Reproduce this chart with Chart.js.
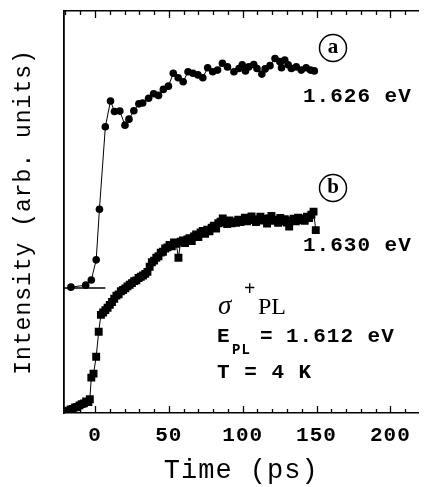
<!DOCTYPE html>
<html>
<head>
<meta charset="utf-8">
<script src="https://cdn.jsdelivr.net/npm/chart.js@4.4.1/dist/chart.umd.min.js"></script>
<style>
  html, body { margin: 0; padding: 0; background: #fff; }
  #wrap { width: 424px; height: 487px; }
</style>
</head>
<body>
<div id="wrap"><canvas id="trChart" width="424" height="487"></canvas></div>
<script>
// curve (a), detection at 1.626 eV (circles)
const timeA = [-16.3, -6.3, -2.5, 0.8, 3.0, 7.0, 10.5, 13.2, 16.8, 20.3, 23.0, 26.3, 29.7, 32.3, 36.3,
  39.7, 43.0, 46.3, 49.7, 53.0, 56.3, 59.7, 63.0, 66.3, 69.7, 73.0, 76.3, 79.7, 83.0, 86.3, 89.7,
  94.1, 97.5, 99.7, 101.9, 104.1, 107.5, 109.7, 113.0, 115.2, 118.5, 121.9, 125.2, 126.3, 128.5,
  130.8, 133.0, 136.3, 139.7, 143.0, 145.9, 148.5];
const intA = [31.3, 31.8, 33.1, 38.1, 50.7, 71.2, 77.6, 75.0, 75.1, 71.6, 73.1, 75.2, 76.9, 77.1, 78.3,
  79.4, 79.0, 80.5, 81.3, 84.5, 83.4, 82.4, 84.9, 84.5, 84.1, 83.4, 85.9, 84.9, 85.3, 87.0, 86.1,
  84.9, 85.7, 86.6, 85.1, 86.1, 86.7, 85.7, 84.3, 85.6, 86.4, 88.2, 87.4, 85.9, 87.8,
  86.6, 85.7, 86.1, 85.3, 85.9, 85.3, 85.1];
// zero level of curve (a)
const baseA = 31.1;
const baseAStart = -21;
const baseAEnd = 7;

// curve (b), detection at 1.630 eV (squares)
const timeB = [-19.5, -18, -16.5, -15, -13.5, -12, -10.5, -9, -7.5, -6, -4.5, -3.5, -2.5, -1, 0.8, 2.5,
  4, 5.5, 7, 8.5, 10, 11.5, 13, 14.5, 16, 17.5, 19, 20.5, 22, 23.5, 25, 26.5, 28, 29.5, 31, 32.5,
  34, 35.5, 37, 38.5, 40, 41.5, 43, 44.5, 46, 47.5, 49, 50.5, 52, 53.5, 55, 56.5, 58, 59.5, 61,
  62.5, 64, 65.5, 67, 68.5, 70, 71.5, 73, 74.5, 76, 77.5, 79, 80.5, 82, 83.5, 85, 86.5, 88, 89.5,
  91, 92.5, 94, 95.5, 97, 98.5, 100, 101.5, 103, 104.5, 106, 107.5, 109, 110.5, 112, 113.5, 115,
  116.5, 118, 119.5, 121, 122.5, 124, 125.5, 127, 128.5, 130, 131.5, 133, 134.5, 136, 137.5, 139,
  140.5, 142, 143.5, 145, 146.5, 148, 149.5];
const intB = [0.3, 0.6, 0.9, 1.0, 1.4, 1.5, 1.9, 2.2, 2.4, 2.9, 2.7, 3.4, 8.8, 9.8, 14.0, 20.2,
  24.4, 25.0, 25.6, 26.2, 26.9, 27.6, 28.4, 29.2, 29.5, 30.3, 30.6, 31.0, 31.5, 31.9, 32.3, 32.8, 33.0, 33.6, 33.9, 34.2,
  34.6, 35.1, 36.4, 37.5, 37.9, 38.6, 39.0, 39.9, 40.1, 40.9, 41.2, 41.8, 41.5, 42.4, 42.1, 38.6, 42.6, 42.9, 42.3,
  43.2, 43.5, 42.8, 43.9, 44.4, 43.8, 44.9, 45.3, 44.6, 45.6, 45.2, 46.1, 46.6, 45.9, 47.2, 47.6, 48.4, 47.4, 47.0,
  47.9, 47.2, 47.6, 47.3, 48.1, 47.5, 47.8, 48.6, 47.7, 48.3, 48.9, 48.0, 47.5, 48.2, 48.8, 47.9, 48.3,
  47.1, 48.4, 49.0, 47.8, 48.1, 47.3, 48.5, 47.6, 48.2, 47.4, 46.4, 47.9, 48.3, 47.7, 48.6, 48.0,
  48.4, 47.8, 48.8, 48.5, 49.3, 50.1, 45.5];

const xMajorTicks = [0, 50, 100, 150, 200];
const xMinorTicks = [-20, -10, 10, 20, 30, 40, 60, 70, 80, 90, 110, 120, 130, 140, 160, 170, 180, 190, 210];

const monoBold = '"Liberation Mono", "DejaVu Sans Mono", monospace';

// inward tick marks on the bottom and top frame lines
const frameTicks = {
  id: 'frameTicks',
  afterDraw(chart) {
    const { ctx, chartArea } = chart;
    const xs = chart.scales.x;
    ctx.save();
    ctx.strokeStyle = '#000';
    ctx.lineWidth = 1.3;
    const mark = (v, len) => {
      const px = Math.round(xs.getPixelForValue(v)) + 0.5;
      ctx.beginPath();
      ctx.moveTo(px, chartArea.bottom);
      ctx.lineTo(px, chartArea.bottom - len);
      ctx.moveTo(px, chartArea.top);
      ctx.lineTo(px, chartArea.top + len);
      ctx.stroke();
    };
    xMajorTicks.forEach(v => mark(v, 7));
    xMinorTicks.forEach(v => mark(v, 4));
    ctx.restore();
  }
};

// labels inside the plot
const notes = {
  id: 'notes',
  afterDraw(chart) {
    const ctx = chart.ctx;
    ctx.save();
    ctx.fillStyle = '#000';
    ctx.strokeStyle = '#000';
    ctx.textBaseline = 'middle';

    // circled letters
    ctx.lineWidth = 1.5;
    [['a', 333, 48], ['b', 333, 188]].forEach(([s, cx, cy]) => {
      ctx.beginPath();
      ctx.arc(cx, cy, 13.5, 0, Math.PI * 2);
      ctx.stroke();
      ctx.font = 'bold 21px "Liberation Serif", serif';
      ctx.textAlign = 'center';
      ctx.letterSpacing = '0px';
      ctx.fillText(s, cx, cy);
    });

    ctx.letterSpacing = '1px';
    ctx.textAlign = 'left';
    ctx.font = 'bold 21px ' + monoBold;
    ctx.fillText('1.626 eV', 303, 97);
    ctx.fillText('1.630 eV', 303, 246);

    // sigma+ PL
    ctx.letterSpacing = '0px';
    ctx.textBaseline = 'alphabetic';
    ctx.font = 'italic 27px "Liberation Serif", serif';
    ctx.fillText('σ', 218, 314);
    ctx.font = 'bold 20px "Liberation Serif", serif';
    ctx.fillText('+', 244, 295);
    ctx.font = '24px "Liberation Serif", serif';
    ctx.fillText('PL', 258, 314);

    // E_PL = 1.612 eV
    ctx.letterSpacing = '1px';
    ctx.textBaseline = 'middle';
    ctx.font = 'bold 21px ' + monoBold;
    ctx.fillText('E', 217, 337);
    ctx.font = 'bold 14px ' + monoBold;
    ctx.fillText('PL', 232, 350);
    ctx.font = 'bold 21px ' + monoBold;
    ctx.fillText('=', 260, 337);
    ctx.fillText('1.612 eV', 286, 337);

    ctx.fillText('T = 4 K', 217, 373);
    ctx.restore();
  }
};

// spread the courier-like glyphs a little, also for axis text
const spacing = {
  id: 'spacing',
  beforeDraw(chart) { chart.ctx.letterSpacing = '1px'; },
  afterDraw(chart) { chart.ctx.letterSpacing = '0px'; }
};

new Chart(document.getElementById('trChart'), {
  type: 'line',
  data: {
    datasets: [
      {
        label: 'a',
        data: timeA.map((t, i) => ({ x: t, y: intA[i] })),
        borderColor: '#000',
        borderWidth: 1,
        pointStyle: 'circle',
        pointRadius: 3.8,
        pointBackgroundColor: '#000',
        pointBorderColor: '#000',
        pointBorderWidth: 0
      },
      {
        label: 'a0',
        data: [{ x: baseAStart, y: baseA }, { x: baseAEnd, y: baseA }],
        borderColor: '#000',
        borderWidth: 1.5,
        pointRadius: 0
      },
      {
        label: 'b',
        data: timeB.map((t, i) => ({ x: t, y: intB[i] })),
        borderColor: '#000',
        borderWidth: 1,
        pointStyle: 'rect',
        pointRadius: 5.6,
        pointBackgroundColor: '#000',
        pointBorderColor: '#000',
        pointBorderWidth: 0
      }
    ]
  },
  options: {
    responsive: false,
    animation: false,
    devicePixelRatio: 1,
    layout: { padding: 0 },
    elements: { line: { tension: 0 } },
    plugins: { legend: { display: false }, tooltip: { enabled: false } },
    scales: {
      x: {
        type: 'linear',
        position: 'bottom',
        min: -21,
        max: 219,
        afterBuildTicks: s => { s.ticks = xMajorTicks.map(v => ({ value: v })); },
        afterFit: s => { s.height = 74; },
        grid: { display: false },
        border: { display: true, color: '#000', width: 1.6 },
        ticks: {
          color: '#000',
          padding: 2,
          maxRotation: 0,
          autoSkip: false,
          font: { family: monoBold, weight: 'bold', size: 21 }
        },
        title: {
          display: true,
          text: 'Time (ps)',
          color: '#000',
          font: { family: monoBold, size: 27 },
          padding: { top: 0, bottom: 0 }
        }
      },
      xTop: {
        type: 'linear',
        position: 'top',
        min: -21,
        max: 219,
        afterFit: s => { s.height = 11; },
        grid: { display: false },
        border: { display: true, color: '#000', width: 1.6 },
        ticks: { display: false }
      },
      y: {
        min: 0,
        max: 100,
        afterFit: s => { s.width = 64; },
        grid: { display: false },
        border: { display: true, color: '#000', width: 1.8 },
        ticks: { display: false },
        title: {
          display: true,
          text: 'Intensity (arb. units)',
          color: '#000',
          font: { family: monoBold, size: 23 },
          padding: { top: 10, bottom: 0 }
        }
      }
    }
  },
  plugins: [spacing, frameTicks, notes]
});
</script>
</body>
</html>
